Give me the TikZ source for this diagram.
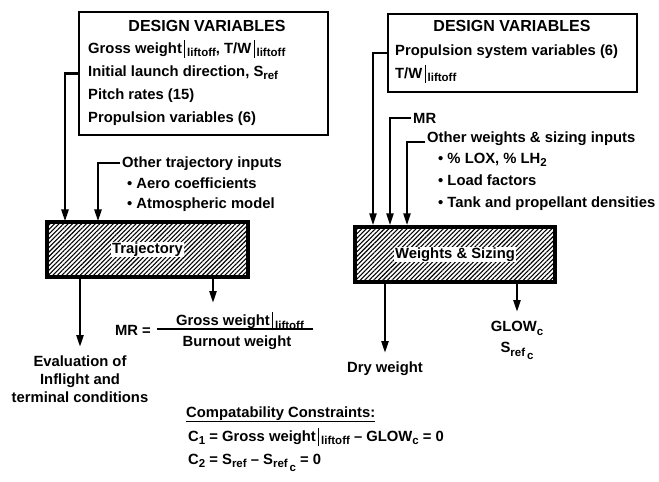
\documentclass[tikz,border=0pt]{standalone}
\usepackage{fontspec}
\setmainfont{Liberation Sans}
\usetikzlibrary{arrows.meta,patterns.meta}
\newcommand{\lowtxt}[1]{\raisebox{-0.45ex}{\fontsize{11.5}{11.5}\selectfont #1}}
\newcommand{\atliftoff}{\,\raisebox{-0.6ex}{\rule{0.9pt}{2.3ex}}\lowtxt{\,liftoff}}
\newcommand{\srefc}{S\lowtxt{ref\,\raisebox{-0.6ex}{c}}}

\begin{document}
\begin{tikzpicture}[x=1pt,y=-1pt,>={Triangle[length=12pt,width=7pt]},
  font=\bfseries\fontsize{14.8}{18}\selectfont,
  dvbox/.style={draw,line width=2.4pt,inner sep=0pt},
  hatchbox/.style={draw,line width=3.4pt,inner sep=0pt,
    pattern={Lines[angle=45,distance=3.2pt,line width=1.1pt]}},
  feed/.style={->,line width=2.4pt},
  txt/.style={inner sep=2pt},
  headtxt/.style={inner sep=2pt,font=\bfseries\fontsize{16}{18}\selectfont},
  outtxt/.style={inner xsep=2pt,inner ysep=9pt,align=center}]
  \useasboundingbox (0,0) rectangle (659,482);
  \node[dvbox,minimum width=249pt,minimum height=123pt] (dvL) at (203.5,73.5) {};
  \node[headtxt,anchor=base] (dvLhead) at (207,31) {DESIGN VARIABLES};
  \node[txt,anchor=base west] (dvL1) at (86,53) {Gross weight\atliftoff, T/W\atliftoff};
  \node[txt,anchor=base west] (dvL2) at (86,76) {Initial launch direction, S\lowtxt{ref}};
  \node[txt,anchor=base west] (dvL3) at (86,99) {Pitch rates (15)};
  \node[txt,anchor=base west] (dvL4) at (86,122) {Propulsion variables (6)};
  \node[dvbox,minimum width=249pt,minimum height=78pt] (dvR) at (512.5,53) {};
  \node[headtxt,anchor=base] (dvRhead) at (512,31) {DESIGN VARIABLES};
  \node[txt,anchor=base west] (dvR1) at (393,55) {Propulsion system variables (6)};
  \node[txt,anchor=base west] (dvR2) at (393,78) {T/W\atliftoff};
  \node[txt,anchor=base west] (tin) at (120,167) {Other trajectory inputs};
  \node[txt,anchor=base west] (tin1) at (125,188) {\textbullet\ Aero coefficients};
  \node[txt,anchor=base west] (tin2) at (125,208) {\textbullet\ Atmospheric model};
  \node[txt,anchor=base west] (wmr) at (411,123) {MR};
  \node[txt,anchor=base west] (win) at (425,142) {Other weights \& sizing inputs};
  \node[txt,anchor=base west] (win1) at (436,163) {\textbullet\ \% LOX, \% LH\lowtxt{2}};
  \node[txt,anchor=base west] (win2) at (436,185) {\textbullet\ Load factors};
  \node[txt,anchor=base west] (win3) at (436,207) {\textbullet\ Tank and propellant densities};
  \node[hatchbox,minimum width=201pt,minimum height=55pt] (trj) at (147.5,249.5) {};
  \node[fill=white,inner sep=1pt] (trjlbl) at (trj.center) {Trajectory};
  \node[hatchbox,minimum width=200pt,minimum height=55pt] (wts) at (455,254.5) {};
  \node[fill=white,inner sep=1pt] (wtslbl) at (wts.center) {Weights \& Sizing};
  \coordinate (xa) at (65,0);
  \coordinate (xb) at (98,0);
  \coordinate (xc) at (373,0);
  \coordinate (xd) at (390,0);
  \coordinate (xe) at (407,0);
  \coordinate (xf) at (213,0);
  \draw[feed] (dvL.west) -| (trj.north -| xa);
  \draw[feed] (tin.west) -| (trj.north -| xb);
  \draw[feed] (dvR.west) -| (wts.north -| xc);
  \draw[feed] (wmr.west) -| (wts.north -| xd);
  \draw[feed] (win.base west) -| (wts.north -| xe);
  \node[outtxt,anchor=north] (eval) at (80,347) {Evaluation of\\Inflight and\\terminal conditions};
  \node[txt,anchor=base east] (mrl) at (153,335) {MR =};
  \node[outtxt,anchor=north] (num) at (240,303) {Gross weight\atliftoff};
  \node[txt,anchor=base] (den) at (237,346) {Burnout weight};
  \draw[line width=1.6pt] (157,329) -- (313,329);
  \node[outtxt,anchor=north] (dry) at (385,353) {Dry weight};
  \node[outtxt,anchor=north] (glow) at (517,312) {GLOW\lowtxt{c}\\[3pt]\srefc};
  \draw[feed] (trj.south -| eval.north) -- (eval.north);
  \draw[feed] (trj.south -| xf) -- (num.north -| xf);
  \draw[feed] (wts.south -| dry.north) -- (dry.north);
  \draw[feed] (wts.south -| glow.north) -- (glow.north);
  \node[txt,anchor=base west] (cc) at (184,417) {\underline{Compatability Constraints:}};
  \node[txt,anchor=base west] (c1) at (186,441) {C\lowtxt{1} = Gross weight\atliftoff{} -- GLOW\lowtxt{c} = 0};
  \node[txt,anchor=base west] (c2) at (186,464) {C\lowtxt{2} = S\lowtxt{ref} -- \srefc{} = 0};
\end{tikzpicture}
\end{document}
